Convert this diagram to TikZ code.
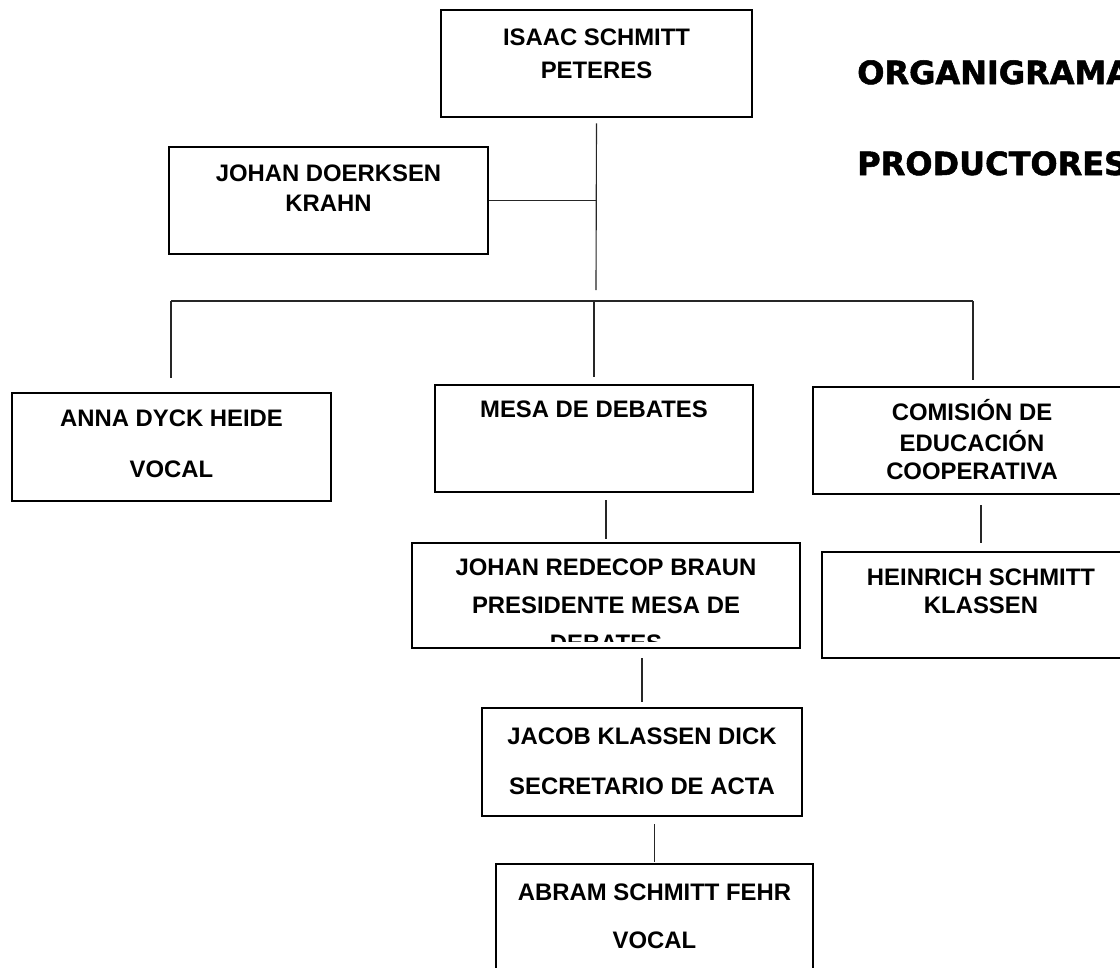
\documentclass[tikz,border=0pt]{standalone}
\usepackage{fontspec}
\setmainfont{Liberation Sans}
\newfontfamily\titlefont[BoldFeatures={FakeBold=1.6}]{DejaVu Sans}
\usetikzlibrary{fit}
\begin{document}
\begin{tikzpicture}[x=0.75pt,y=-0.75pt,
  box/.style={draw=black, line width=1.9pt, inner sep=0pt},
  conn/.style={draw=black!85, line width=0.85pt},
  txt/.style={font=\fontsize{17.9}{21}\selectfont\bfseries, anchor=base, inner sep=0pt},
  ttl/.style={font=\titlefont\fontsize{24}{28}\selectfont\bfseries, anchor=base west, inner sep=0pt}]
\clip (0,0) rectangle (1120,967);
\fill[white] (0,0) rectangle (1120,967);

% boxes
\node[box, fit={(441,10) (752,117)}] (isaac) {};
\node[box, fit={(169,147) (488,254)}] (doerksen) {};
\node[box, fit={(12,393) (331,501)}] (anna) {};
\node[box, fit={(435,385) (753,492)}] (mesa) {};
\node[box, fit={(813,387) (1131,494)}] (comision) {};
\node[box, fit={(412,543) (800,648)}] (redecop) {};
\node[box, fit={(822,552) (1140,658)}] (heinrich) {};
\node[box, fit={(482,708) (802,816)}] (jacob) {};
\node[box, fit={(496,864) (813,980)}] (abram) {};

% texts
\node[txt] (isaac1) at (596.5,45) {ISAAC SCHMITT};
\node[txt] (isaac2) at (596.5,78) {PETERES};
\node[txt] (doerksen1) at (328.5,181) {JOHAN DOERKSEN};
\node[txt] (doerksen2) at (328.5,211) {KRAHN};
\node[txt] (anna1) at (171.5,426) {ANNA DYCK HEIDE};
\node[txt] (anna2) at (171.5,477) {VOCAL};
\node[txt] (mesa1) at (594,417) {MESA DE DEBATES};
\node[txt] (comision1) at (972,420) {COMISIÓN DE};
\node[txt] (comision2) at (972,451) {EDUCACIÓN};
\node[txt] (comision3) at (972,479) {COOPERATIVA};
\node[txt] (redecop1) at (606,575) {JOHAN REDECOP BRAUN};
\node[txt] (redecop2) at (606,613) {PRESIDENTE MESA DE};
\begin{scope}
  \clip (412,543) rectangle (800,641);
  \node[txt] (redecop3) at (606,651) {DEBATES};
\end{scope}
\node[txt] (heinrich1) at (981,585) {HEINRICH SCHMITT};
\node[txt] (heinrich2) at (981,613) {KLASSEN};
\node[txt] (jacob1) at (642,744) {JACOB KLASSEN DICK};
\node[txt] (jacob2) at (642,794) {SECRETARIO DE ACTA};
\node[txt] (abram1) at (654.5,900) {ABRAM SCHMITT FEHR};
\node[txt] (abram2) at (654.5,948) {VOCAL};

% title
\node[ttl] (title1) at (857,84) {ORGANIGRAMA};
\node[ttl] (title2) at (857,175) {PRODUCTORES};

% connector junctions
\coordinate (jtop) at (596,290);
\coordinate (busL) at (171,301);
\coordinate (busM) at (594,301);
\coordinate (busR) at (973,301);

% connectors
\draw[conn, shorten <=3.75pt] (isaac.south) -- (jtop);
\draw[conn] (doerksen.east) -- (doerksen.east -| jtop);
\draw[conn] (busL) -- (busR);
\draw[conn, shorten >=10.5pt] (busL) -- (anna.north -| busL);
\draw[conn, shorten >=5.25pt] (busM) -- (mesa.north);
\draw[conn, shorten >=4.5pt] (busR) -- (comision.north -| busR);
\draw[conn, shorten <=5.25pt, shorten >=2.25pt] (mesa.south -| redecop.north) -- (redecop.north);
\draw[conn, shorten <=6.75pt, shorten >=3.75pt] (redecop.south -| jacob.north) -- (jacob.north);
\draw[conn, shorten <=5.25pt, shorten >=0.75pt] (jacob.south -| abram.north) -- (abram.north);
\draw[conn, shorten <=7.5pt, shorten >=6pt] (comision.south -| heinrich.north) -- (heinrich.north);
\end{tikzpicture}
\end{document}
